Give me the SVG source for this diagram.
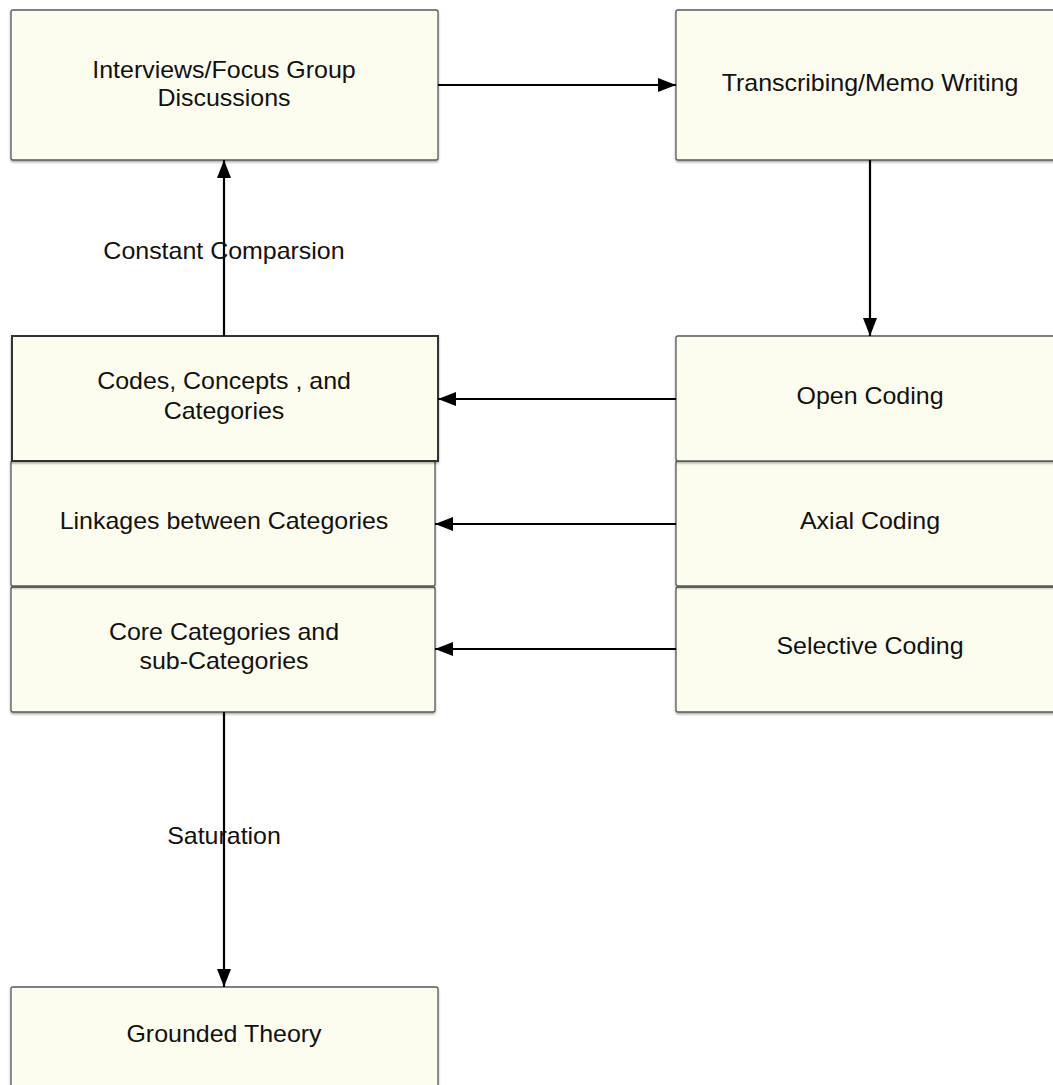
<svg xmlns="http://www.w3.org/2000/svg" width="1053" height="1085" viewBox="0 0 1053 1085">
<defs>
<marker id="ah" markerWidth="18" markerHeight="14" refX="18" refY="7" orient="auto" markerUnits="userSpaceOnUse">
<path d="M0,0 L18,7 L0,14 Z" fill="#000"/>
</marker>
<filter id="sh" x="-5%" y="-5%" width="110%" height="115%">
<feDropShadow dx="0" dy="1.5" stdDeviation="1.2" flood-color="#000" flood-opacity="0.35"/>
</filter>
</defs>
<style>
.box{fill:#fdfdef;stroke:#5a5a5a;stroke-width:1.3;filter:url(#sh)}
.thick{stroke:#333;stroke-width:2}
text{font-family:"Liberation Sans",Arial,sans-serif;font-size:24px;fill:#111;text-anchor:middle}
.edge{stroke:#000;stroke-width:2.2;fill:none;marker-end:url(#ah)}
</style>
<rect width="1053" height="1085" fill="#fff"/>
<g id="interviews"><rect class="box" x="11" y="10" width="427" height="150" rx="2"/><text transform="translate(224,78) scale(1.04,1)">Interviews/Focus Group</text><text transform="translate(224,106) scale(1.04,1)">Discussions</text></g>
<g id="transcribing"><rect class="box" x="676" y="10" width="390" height="150" rx="2"/><text transform="translate(870,91) scale(1.04,1)">Transcribing/Memo Writing</text></g>
<g id="grounded"><rect class="box" x="11" y="987" width="427" height="110" rx="2"/><text transform="translate(224,1042) scale(1.04,1)">Grounded Theory</text></g>
<g id="core"><rect class="box" x="11" y="587" width="424" height="125" rx="2"/><text transform="translate(224,640) scale(1.04,1)">Core Categories and</text><text transform="translate(224,669) scale(1.04,1)">sub-Categories</text></g>
<g id="linkages"><rect class="box" x="11" y="461" width="424" height="125" rx="2"/><text transform="translate(224,529) scale(1.04,1)">Linkages between Categories</text></g>
<g id="codes"><rect class="box thick" x="12" y="336" width="426" height="125"/><text transform="translate(224,389) scale(1.04,1)">Codes, Concepts , and</text><text transform="translate(224,419) scale(1.04,1)">Categories</text></g>
<g id="selective"><rect class="box" x="676" y="587" width="390" height="125" rx="2"/><text transform="translate(870,654) scale(1.04,1)">Selective Coding</text></g>
<g id="axial"><rect class="box" x="676" y="461" width="390" height="125" rx="2"/><text transform="translate(870,529) scale(1.04,1)">Axial Coding</text></g>
<g id="open"><rect class="box" x="676" y="336" width="390" height="125" rx="2"/><text transform="translate(870,404) scale(1.04,1)">Open Coding</text></g>
<g id="connectors">
<line class="edge" x1="438" y1="85" x2="676" y2="85"/>
<line class="edge" x1="870" y1="160" x2="870" y2="336"/>
<line class="edge" x1="676" y1="399" x2="438" y2="399"/>
<line class="edge" x1="676" y1="524" x2="435" y2="524"/>
<line class="edge" x1="676" y1="649" x2="435" y2="649"/>
<line class="edge" x1="224" y1="336" x2="224" y2="160"/>
<line class="edge" x1="224" y1="712" x2="224" y2="987"/>
<text transform="translate(224,259) scale(1.04,1)">Constant Comparsion</text>
<text transform="translate(224,844) scale(1.04,1)">Saturation</text>
</g>
</svg>
